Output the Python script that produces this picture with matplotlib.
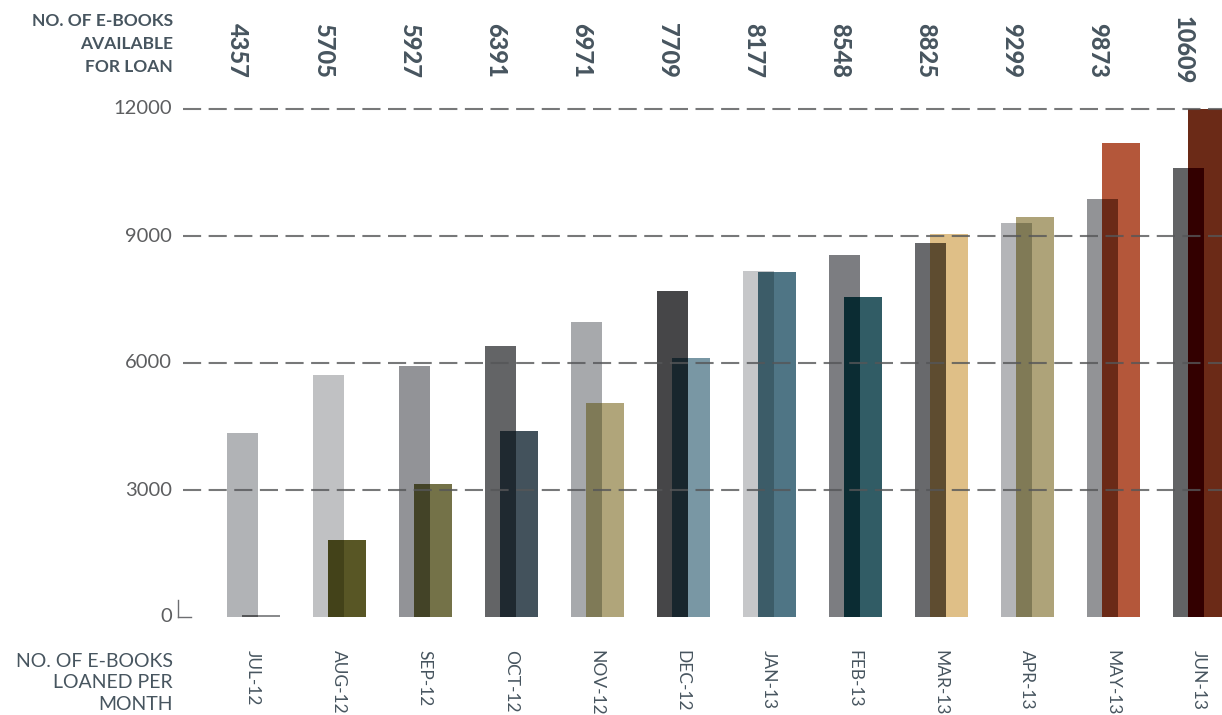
import matplotlib
matplotlib.use("Agg")
import matplotlib.pyplot as plt
import numpy as np

months = ["JUL-12", "AUG-12", "SEP-12", "OCT-12", "NOV-12", "DEC-12",
          "JAN-13", "FEB-13", "MAR-13", "APR-13", "MAY-13", "JUN-13"]
available = [4357, 5705, 5927, 6391, 6971, 7709, 8177, 8548, 8825, 9299, 9873, 10609]
loaned = [40, 1830, 3140, 4390, 5050, 6110, 8150, 7570, 9040, 9460, 11190, 12000]
yticks = [0, 3000, 6000, 9000, 12000]

avail_colors = ["#b1b3b6", "#c0c1c3", "#929397", "#636466", "#a7a9ac", "#464648",
                "#c6c7c9", "#7c7d81", "#68696c", "#b4b5b8", "#929396", "#626365"]
loan_colors = ["#8a8b8d", "#585625", "#747248", "#43525c", "#b0a57a", "#7997a4",
               "#4f7585", "#315c65", "#dfbf87", "#aea379", "#b4573a", "#6b2a17"]
overlap_colors = ["#555658", "#434219", "#434327", "#1f2930", "#7f7a57", "#18262d",
                  "#3c5c68", "#0b2c33", "#5e4c30", "#807a56", "#6b2a17", "#330000"]

text_col = "#47555f"
FONT = ["Lato", "DejaVu Sans"]

fig = plt.figure(figsize=(12.22, 7.15), dpi=100)
ax = fig.add_axes([178 / 1222, 98 / 715, (1222 - 178) / 1222, 508 / 715])

x = np.arange(len(months))
aw = 0.36      # available bar width
lo = 0.18      # loaned bar offset
lw = 0.436     # loaned bar width

ax.bar(x, available, width=aw, align="edge", color=avail_colors, zorder=1,
       edgecolor="none")
ax.bar(x + lo, loaned, width=lw, align="edge", color=loan_colors, zorder=2,
       edgecolor="none")
ov = np.minimum(available, loaned)
ax.bar(x + lo, ov, width=aw - lo, align="edge", color=overlap_colors, zorder=3,
       edgecolor="none")

ax.set_xlim(-49 / 86, 995 / 86)
ax.set_ylim(0, 12000)

# dashed gridlines on top
for v in yticks[1:]:
    ax.axhline(v, xmin=0.005, xmax=1, color="#555658", alpha=0.8, lw=1.5,
               dashes=(8.7, 3.6), dash_capstyle="butt", zorder=5, clip_on=False)

for s in ax.spines.values():
    s.set_visible(False)
ax.set_xticks([])
ax.set_yticks([])

# y tick labels
for v in yticks:
    ax.text(-0.006, v, str(v), transform=ax.get_yaxis_transform(),
            ha="right", va="center", fontsize=14.5, family=FONT, weight="normal",
            color="#5d5e60")
# small corner mark at 0
ax.plot([0, 0], [0, 400], transform=ax.get_yaxis_transform(), color="#6d6e71",
        lw=1, clip_on=False)
ax.plot([0, 0.012], [0, 0], transform=ax.get_yaxis_transform(), color="#6d6e71",
        lw=1, clip_on=False)

# value labels on top (available)
for xi, v in zip(x, available):
    ax.text(xi + 0.12, 1.116, str(v), transform=ax.get_xaxis_transform(),
            rotation=270, ha="center", va="center", fontsize=17,
            family=FONT, weight="black", color=text_col)

# month labels
for xi, m in zip(x, months):
    ax.text(xi + 0.30, -0.065, m, transform=ax.get_xaxis_transform(),
            rotation=270, ha="center", va="top", fontsize=12.5,
            family=FONT, weight="normal", color=text_col)

# left header labels
fig.text(173 / 1222, 1 - 44 / 715, "NO. OF E-BOOKS\nAVAILABLE\nFOR LOAN",
         ha="right", va="center", fontsize=12.5, family=FONT, weight="bold",
         color=text_col, linespacing=1.55)
fig.text(173 / 1222, 1 - 683 / 715, "NO. OF E-BOOKS\nLOANED PER\nMONTH",
         ha="right", va="center", fontsize=14, family=FONT, weight="normal",
         color=text_col, linespacing=1.3)

fig.savefig("out.png", dpi=100)
